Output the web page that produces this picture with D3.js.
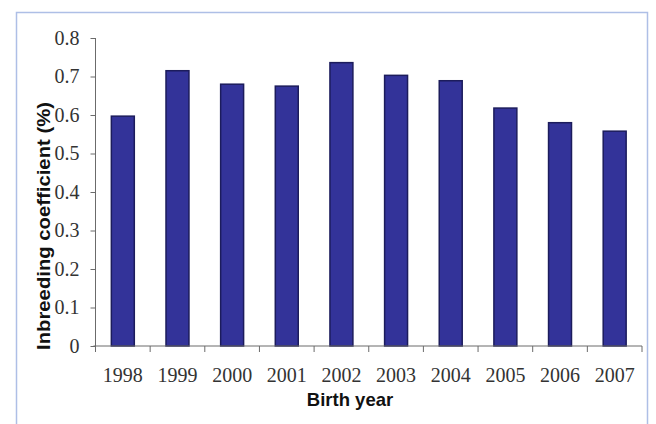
<!DOCTYPE html>
<html>
<head>
<meta charset="utf-8">
<script src="https://cdn.jsdelivr.net/npm/d3@7"></script>
<style>
  html, body { margin: 0; padding: 0; background: #fff; }
  svg { display: block; }
</style>
</head>
<body>
<svg id="chart" width="656" height="424"></svg>
<script>
// Mean inbreeding coefficient by birth year
const years = ["1998", "1999", "2000", "2001", "2002", "2003", "2004", "2005", "2006", "2007"];
const inbreeding = [0.597, 0.715, 0.680, 0.675, 0.736, 0.703, 0.689, 0.618, 0.580, 0.558];
const yTicks = [0, 0.1, 0.2, 0.3, 0.4, 0.5, 0.6, 0.7, 0.8];

const svg = d3.select("#chart");

// outer chart frame
svg.append("rect")
  .attr("x", 16.5).attr("y", 12.5)
  .attr("width", 631).attr("height", 430)
  .attr("fill", "#fff")
  .attr("stroke", "#aebfe6")
  .attr("stroke-width", 1.5);

const plot = { left: 95.5, right: 642, top: 38, bottom: 346 };

const x = d3.scaleBand()
  .domain(years)
  .range([plot.left, plot.right])
  .paddingInner(0.58)
  .paddingOuter(0.29);

const y = d3.scaleLinear()
  .domain([0, 0.8])
  .range([plot.bottom, plot.top]);

// bars
svg.append("g")
  .selectAll("rect")
  .data(years)
  .join("rect")
  .attr("x", (d) => x(d))
  .attr("y", (d, i) => y(inbreeding[i]))
  .attr("width", x.bandwidth())
  .attr("height", (d, i) => y(0) - y(inbreeding[i]))
  .attr("fill", "#333399")
  .attr("stroke", "#1c1c5c")
  .attr("stroke-width", 1.5);

// y axis
const yAxis = svg.append("g")
  .attr("transform", `translate(${plot.left},0)`)
  .call(d3.axisLeft(y).tickValues(yTicks).tickFormat((d) => d === 0 ? "0" : d3.format(".1f")(d)).tickSizeOuter(0).tickSize(5).tickPadding(11));
yAxis.select(".domain").attr("stroke", "#6b6b6b").attr("d", `M0,${plot.top}V${plot.bottom + 6}`);
yAxis.selectAll(".tick line").attr("stroke", "#6b6b6b");
yAxis.selectAll(".tick text")
  .attr("font-family", "'Liberation Serif', 'Times New Roman', serif")
  .attr("font-size", 20)
  .attr("fill", "#333");

// x axis with category boundary ticks
const xAxis = svg.append("g")
  .attr("transform", `translate(0,${plot.bottom})`);
xAxis.append("line")
  .attr("x1", plot.left - 2).attr("x2", plot.right)
  .attr("stroke", "#6b6b6b");
const boundaries = years.map((d) => x(d) - x.step() * x.paddingInner() / 2).concat([plot.right]);
xAxis.selectAll("line.bt")
  .data(boundaries)
  .join("line")
  .attr("class", "bt")
  .attr("x1", (d) => d).attr("x2", (d) => d)
  .attr("y1", 0).attr("y2", 6)
  .attr("stroke", "#6b6b6b");
xAxis.selectAll("text")
  .data(years)
  .join("text")
  .attr("x", (d) => x(d) + x.bandwidth() / 2)
  .attr("y", 36)
  .attr("text-anchor", "middle")
  .attr("font-family", "'Liberation Serif', 'Times New Roman', serif")
  .attr("font-size", 20)
  .attr("fill", "#333")
  .text((d) => d);

// axis titles
svg.append("text")
  .attr("x", 350).attr("y", 406)
  .attr("text-anchor", "middle")
  .attr("font-family", "'Liberation Sans', Arial, sans-serif")
  .attr("font-weight", "bold")
  .attr("font-size", 18.5)
  .attr("fill", "#111")
  .text("Birth year");

svg.append("text")
  .attr("transform", "translate(50,226) rotate(-90)")
  .attr("text-anchor", "middle")
  .attr("font-family", "'Liberation Sans', Arial, sans-serif")
  .attr("font-weight", "bold")
  .attr("font-size", 19)
  .attr("textLength", 248)
  .attr("lengthAdjust", "spacingAndGlyphs")
  .attr("fill", "#111")
  .text("Inbreeding coefficient (%)");
</script>
</body>
</html>
